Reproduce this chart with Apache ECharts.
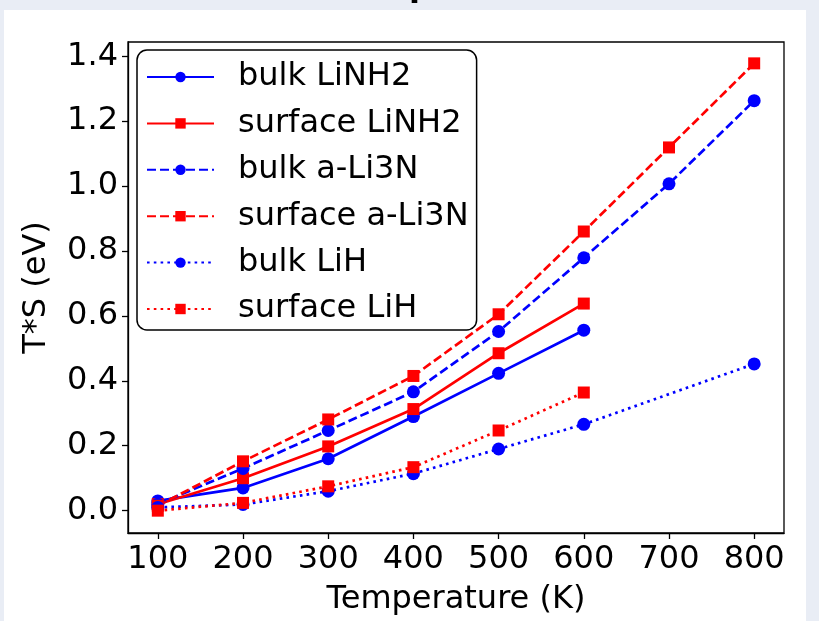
<!DOCTYPE html>
<html><head><meta charset="utf-8">
<script src="https://cdn.jsdelivr.net/npm/echarts@6/dist/echarts.min.js"></script>
<style>html,body{margin:0;padding:0;background:#e9edf5}#c{width:819px;height:621px}</style>
</head><body><div id="c"></div>
<script>
const seriesNames = ['bulk LiNH2','surface LiNH2','bulk a-Li3N','surface a-Li3N','bulk LiH','surface LiH'];
const tempsLiNH2 = [100,200,300,400,500,600];
const tempsLi3N = [100,200,300,400,500,600,700,800];
const tempsBulkLiH = [100,200,300,400,500,600,800];
const tempsSurfLiH = [100,200,300,400,500,600];
const bulkLiNH2 = [0.03,0.07,0.16,0.29,0.423,0.556];
const surfaceLiNH2 = [0.02,0.10,0.198,0.313,0.485,0.638];
const bulkLi3N = [0.02,0.13,0.247,0.366,0.552,0.779,1.007,1.263];
const surfaceLi3N = [0.015,0.152,0.281,0.415,0.605,0.86,1.119,1.378];
const bulkLiH = [0.01,0.019,0.06,0.114,0.19,0.266,0.452];
const surfaceLiH = [0.0,0.024,0.075,0.134,0.247,0.364];
const xTicks = [100,200,300,400,500,600,700,800];
const yTicks = [0,0.2,0.4,0.6,0.8,1.0,1.2,1.4];
const xTitle = 'Temperature (K)';
const yTitle = 'T*S (eV)';

const FONT = 'DejaVu Sans';
const FS = 32;
const BLUE = '#0000ff', RED = '#ff0000';
const DASH = [9,4], DOT = [2.6,4.2];

function pairs(xs, ys){ return xs.map((x,i)=>[x, ys[i]]); }
function mk(name, xs, ys, color, symbol, type){
  return {
    name, type:'line', data: pairs(xs, ys),
    symbol, symbolSize: symbol==='circle'?13:12,
    lineStyle:{color, width:2.7, type},
    itemStyle:{color},
    animation:false
  };
}

const chart = echarts.init(document.getElementById('c'), null, {renderer:'canvas'});
chart.setOption({
  backgroundColor:'#e9edf5',
  animation:false,
  graphic:[
    {type:'rect', z:-100, shape:{x:4,y:10,width:802,height:611}, style:{fill:'#ffffff'}, silent:true},
    {type:'text', z:-50, x:409, y:-28, style:{text:'p', font:'bold 32px "DejaVu Sans"', fill:'#000'}, silent:true}
  ],
  grid:{left:128, top:42, right:35, bottom:88, show:true, borderColor:'#000', borderWidth:1.3, backgroundColor:'#fff'},
  legend:{
    orient:'vertical', left:137, top:50,
    padding:[11,8,5,9],
    itemWidth:67, itemHeight:13, itemGap:14.4,
    borderColor:'#000', borderWidth:1.5, borderRadius:10, backgroundColor:'#fff',
    textStyle:{fontFamily:FONT, fontSize:FS, color:'#000', lineHeight:32, padding:[0,0,0,19]},
    data: seriesNames
  },
  xAxis:{
    type:'value', min:65, max:835,
    name:xTitle, nameLocation:'middle', nameGap:51,
    nameTextStyle:{fontFamily:FONT, fontSize:FS, color:'#000'},
    axisLine:{show:true, onZero:false, lineStyle:{color:'#000', width:1.3}},
    axisTick:{show:true, length:6, lineStyle:{color:'#000', width:1.3}, customValues:xTicks},
    axisLabel:{fontFamily:FONT, fontSize:FS, color:'#000', margin:11, customValues:xTicks},
    splitLine:{show:false}
  },
  yAxis:{
    type:'value', min:-0.0688, max:1.4438,
    name:yTitle, nameLocation:'middle', nameGap:75,
    nameTextStyle:{fontFamily:FONT, fontSize:FS, color:'#000'},
    axisLine:{show:true, onZero:false, lineStyle:{color:'#000', width:1.3}},
    axisTick:{show:true, length:6, lineStyle:{color:'#000', width:1.3}, customValues:yTicks},
    axisLabel:{fontFamily:FONT, fontSize:FS, color:'#000', margin:10, customValues:yTicks, formatter:v=>v.toFixed(1)},
    splitLine:{show:false}
  },
  series:[
    mk(seriesNames[0], tempsLiNH2, bulkLiNH2, BLUE, 'circle', 'solid'),
    mk(seriesNames[1], tempsLiNH2, surfaceLiNH2, RED, 'rect', 'solid'),
    mk(seriesNames[2], tempsLi3N, bulkLi3N, BLUE, 'circle', DASH),
    mk(seriesNames[3], tempsLi3N, surfaceLi3N, RED, 'rect', DASH),
    mk(seriesNames[4], tempsBulkLiH, bulkLiH, BLUE, 'circle', DOT),
    mk(seriesNames[5], tempsSurfLiH, surfaceLiH, RED, 'rect', DOT)
  ]
});
</script></body></html>
